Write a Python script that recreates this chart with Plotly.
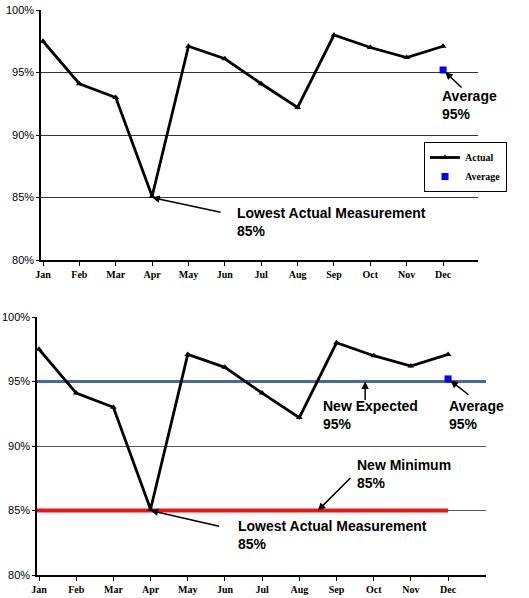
import plotly.graph_objects as go

months = ["Jan", "Feb", "Mar", "Apr", "May", "Jun", "Jul", "Aug", "Sep", "Oct", "Nov", "Dec"]
actual = [97.5, 94.1, 93.0, 85.1, 97.1, 96.1, 94.1, 92.2, 98.0, 97.0, 96.2, 97.1]
average = 95.2
new_expected = 95
new_minimum = 85
y_ticks = [80, 85, 90, 95, 100]
y_labels = ["80%", "85%", "90%", "95%", "100%"]

W, H = 529, 598
idx = list(range(len(months)))

def px_x(p):
    return p / W

def px_y(p):
    return 1 - p / H

xr_top = [-0.055, 11.96]
xr_bot = [-0.054, 12.02]

fig = go.Figure()

# Top chart
fig.add_trace(go.Scatter(x=idx, y=actual, mode="lines+markers", name="Actual",
                         line=dict(color="black", width=2.8),
                         marker=dict(symbol="triangle-up", size=6, color="black"),
                         xaxis="x", yaxis="y"))
fig.add_trace(go.Scatter(x=[idx[-1]], y=[average], mode="markers", name="Average",
                         marker=dict(symbol="square", size=7, color="#0000ff"),
                         xaxis="x", yaxis="y"))

# Bottom chart reference lines (drawn first, under the data)
fig.add_trace(go.Scatter(x=[xr_bot[0], xr_bot[1]], y=[new_expected, new_expected], mode="lines",
                         line=dict(color="#46699A", width=3), showlegend=False, hoverinfo="skip",
                         xaxis="x2", yaxis="y2"))
fig.add_trace(go.Scatter(x=[xr_bot[0], idx[-1]], y=[new_minimum, new_minimum], mode="lines",
                         line=dict(color="#E8161B", width=4), showlegend=False, hoverinfo="skip",
                         xaxis="x2", yaxis="y2"))

# Bottom chart
fig.add_trace(go.Scatter(x=idx, y=actual, mode="lines+markers", name="Actual", showlegend=False,
                         line=dict(color="black", width=2.8),
                         marker=dict(symbol="triangle-up", size=6, color="black"),
                         xaxis="x2", yaxis="y2"))
fig.add_trace(go.Scatter(x=[idx[-1]], y=[average], mode="markers", name="Average", showlegend=False,
                         marker=dict(symbol="square", size=7, color="#0000ff"),
                         xaxis="x2", yaxis="y2"))

axis_x = dict(tickvals=idx, ticktext=months, showgrid=False, zeroline=False, automargin=False,
              showline=True, linecolor="black", linewidth=1.5, ticks="outside",
              ticklen=4, tickcolor="black",
              tickfont=dict(family="Liberation Serif", size=10, color="black", weight="bold"))
axis_y = dict(range=[80, 100], tickvals=y_ticks, ticktext=y_labels, showgrid=True, automargin=False,
              gridcolor="#333333", gridwidth=1, zeroline=False,
              showline=True, linecolor="black", linewidth=1.5, ticks="outside",
              ticklen=3, tickcolor="black",
              tickfont=dict(family="Liberation Sans", size=11, color="black"))

fig.update_layout(
    template="none",
    width=W, height=H, margin=dict(l=0, r=0, t=0, b=0, autoexpand=False),
    paper_bgcolor="white", plot_bgcolor="white",
    xaxis=dict(axis_x, domain=[px_x(41), px_x(478)], range=xr_top, anchor="y"),
    yaxis=dict(axis_y, domain=[px_y(260), px_y(10)], anchor="x"),
    xaxis2=dict(axis_x, domain=[px_x(37), px_x(486)], range=xr_bot, anchor="y2"),
    yaxis2=dict(axis_y, domain=[px_y(575), px_y(317)], anchor="x2", gridcolor="#555555"),
    legend=dict(x=px_x(424), y=px_y(142), xanchor="left", yanchor="top",
                bordercolor="black", borderwidth=1, bgcolor="white",
                font=dict(family="Liberation Serif", size=10, color="black", weight="bold"),
                tracegroupgap=0, itemwidth=30),
    showlegend=True,
)

tfont = dict(family="Liberation Sans", size=14, color="black")

def label(text, left, top):
    fig.add_annotation(text=text, xref="paper", yref="paper", x=px_x(left), y=px_y(top),
                       xanchor="left", yanchor="top", align="left", showarrow=False, font=tfont)

def arrow(xref, yref, x, y, ax, ay, standoff=0):
    fig.add_annotation(text="", xref=xref, yref=yref, x=x, y=y, ax=ax, ay=ay,
                       showarrow=True, arrowhead=2, arrowsize=1, arrowwidth=1.5,
                       arrowcolor="black", standoff=standoff)

# Top annotations
label("<b>Average<br>95%</b>", 440, 86)
arrow("x", "y", idx[-1], average, 20, 19, 3)
label("<b>Lowest Actual Measurement<br>85%</b>", 235, 203)
arrow("x", "y", 3, new_minimum, 70, 15, 0)

# Bottom annotations
label("<b>New Expected<br>95%</b>", 321, 396)
arrow("x2", "y2", 8.77, new_expected, 0, 20, 0)
label("<b>Average<br>95%</b>", 447, 396)
arrow("x2", "y2", idx[-1], average, 22, 17, 3)
label("<b>New Minimum<br>85%</b>", 355, 455)
arrow("x2", "y2", 7.5, new_minimum, 34, -34, 0)
label("<b>Lowest Actual Measurement<br>85%</b>", 236, 516)
arrow("x2", "y2", 3, new_minimum, 70, 16, 0)

fig.write_html("out.html", config={"displayModeBar": False},
               post_script="document.body.style.margin='0';")
